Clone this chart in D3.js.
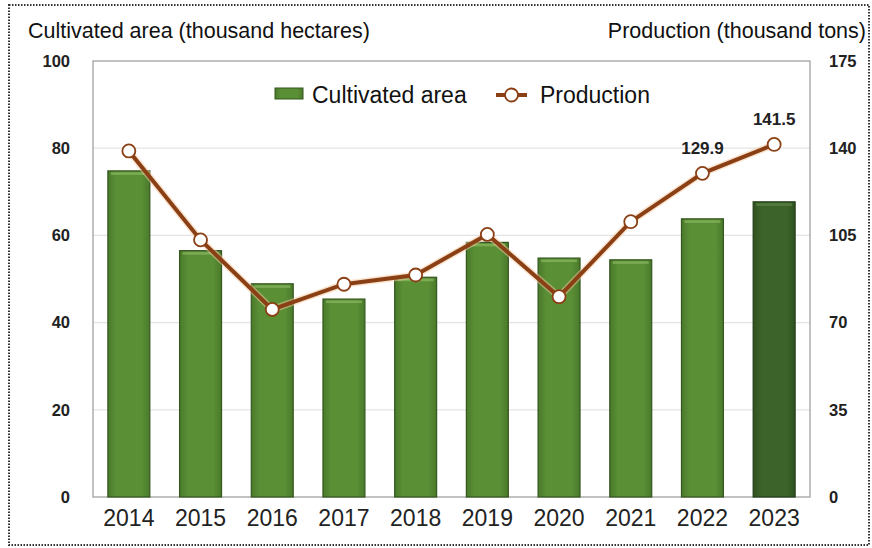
<!DOCTYPE html>
<html>
<head>
<meta charset="utf-8">
<script src="https://cdn.jsdelivr.net/npm/d3@7"></script>
<style>
  html, body { margin: 0; padding: 0; background: #fff; }
  svg { display: block; }
</style>
</head>
<body>
<div id="chart"></div>
<script>
const years = ["2014", "2015", "2016", "2017", "2018", "2019", "2020", "2021", "2022", "2023"];
const areaValues = [74.8, 56.5, 48.9, 45.4, 50.4, 58.4, 54.8, 54.4, 63.8, 67.7];
const productionValues = [138.9, 103.2, 75.3, 85.4, 89.1, 105.4, 80.4, 110.5, 129.9, 141.5];
const leftTicks = [0, 20, 40, 60, 80, 100];
const rightTicks = [0, 35, 70, 105, 140, 175];
const labelledYears = ["2022", "2023"];

const width = 872, height = 548;
const plot = { left: 93, top: 61, right: 810, bottom: 497 };
const font = "Liberation Sans, Arial, sans-serif";

const svg = d3.select("#chart").append("svg")
  .attr("width", width)
  .attr("height", height);

const defs = svg.append("defs");
const grad = defs.append("linearGradient").attr("id", "barGrad").attr("x1", 0).attr("x2", 1);
grad.append("stop").attr("offset", "0%").attr("stop-color", "#4a7a2a");
grad.append("stop").attr("offset", "20%").attr("stop-color", "#5b8f36");
grad.append("stop").attr("offset", "80%").attr("stop-color", "#5b8f36");
grad.append("stop").attr("offset", "100%").attr("stop-color", "#4a7a2a");
const grad2 = defs.append("linearGradient").attr("id", "barGradDark").attr("x1", 0).attr("x2", 1);
grad2.append("stop").attr("offset", "0%").attr("stop-color", "#2f5220");
grad2.append("stop").attr("offset", "20%").attr("stop-color", "#3c6329");
grad2.append("stop").attr("offset", "80%").attr("stop-color", "#3c6329");
grad2.append("stop").attr("offset", "100%").attr("stop-color", "#2f5220");

// dotted frame
svg.append("rect")
  .attr("x", 9).attr("y", 5)
  .attr("width", width - 12).attr("height", height - 8)
  .attr("fill", "none")
  .attr("stroke", "#333")
  .attr("stroke-width", 2)
  .attr("stroke-dasharray", "1.5,1.5");

const x = d3.scaleBand()
  .domain(years)
  .range([plot.left, plot.right])
  .paddingInner(0.415)
  .paddingOuter(0.2075);

const yLeft = d3.scaleLinear().domain([0, 100]).range([plot.bottom, plot.top]);
const yRight = d3.scaleLinear().domain([0, 175]).range([plot.bottom, plot.top]);

// grid
svg.append("g")
  .selectAll("line")
  .data(leftTicks.slice(1, -1))
  .join("line")
  .attr("x1", plot.left).attr("x2", plot.right)
  .attr("y1", d => yLeft(d)).attr("y2", d => yLeft(d))
  .attr("stroke", "#e4e4e4")
  .attr("stroke-width", 1.2);

// plot frame
svg.append("rect")
  .attr("x", plot.left).attr("y", plot.top)
  .attr("width", plot.right - plot.left).attr("height", plot.bottom - plot.top)
  .attr("fill", "none")
  .attr("stroke", "#9a9a9a")
  .attr("stroke-width", 1.2);

// bars
const bars = svg.append("g")
  .selectAll("g")
  .data(years.map((yr, i) => ({ year: yr, value: areaValues[i], last: i === years.length - 1 })))
  .join("g");

bars.append("rect")
  .attr("x", d => x(d.year))
  .attr("y", d => yLeft(d.value))
  .attr("width", x.bandwidth())
  .attr("height", d => yLeft(0) - yLeft(d.value))
  .attr("fill", d => d.last ? "url(#barGradDark)" : "url(#barGrad)")
  .attr("stroke", d => d.last ? "#233d18" : "#34561f")
  .attr("stroke-width", 1.2);

bars.append("rect")
  .attr("x", d => x(d.year) + 3)
  .attr("y", d => yLeft(d.value) + 1.5)
  .attr("width", x.bandwidth() - 6)
  .attr("height", 2.5)
  .attr("fill", d => d.last ? "#5c8145" : "#85b35c")
  .attr("opacity", 0.8);

// left axis
const leftAxis = svg.append("g")
  .attr("transform", `translate(${plot.left},0)`)
  .call(d3.axisLeft(yLeft).tickValues(leftTicks).tickSize(0).tickPadding(23));
leftAxis.select(".domain").remove();
leftAxis.selectAll("text")
  .attr("font-family", font)
  .attr("font-weight", "bold")
  .attr("font-size", 16.5)
  .attr("fill", "#222");

// right axis
const rightAxis = svg.append("g")
  .attr("transform", `translate(${plot.right},0)`)
  .call(d3.axisRight(yRight).tickValues(rightTicks).tickSize(0).tickPadding(19));
rightAxis.select(".domain").remove();
rightAxis.selectAll("text")
  .attr("font-family", font)
  .attr("font-weight", "bold")
  .attr("font-size", 16.5)
  .attr("fill", "#222");

// x axis
const xAxis = svg.append("g")
  .attr("transform", `translate(0,${plot.bottom})`)
  .call(d3.axisBottom(x).tickSize(0).tickPadding(13));
xAxis.select(".domain").remove();
xAxis.selectAll("text")
  .attr("font-family", font)
  .attr("font-size", 23)
  .attr("fill", "#222");

// production line
const lineData = years.map((yr, i) => ({ year: yr, value: productionValues[i] }));
const line = d3.line()
  .x(d => x(d.year) + x.bandwidth() / 2)
  .y(d => yRight(d.value));

svg.append("path")
  .datum(lineData)
  .attr("d", line)
  .attr("fill", "none")
  .attr("stroke", "#f3c9a0")
  .attr("stroke-width", 7)
  .attr("opacity", 0.5);

svg.append("path")
  .datum(lineData)
  .attr("d", line)
  .attr("fill", "none")
  .attr("stroke", "#8a3f14")
  .attr("stroke-width", 4);

svg.append("g")
  .selectAll("circle")
  .data(lineData)
  .join("circle")
  .attr("cx", d => x(d.year) + x.bandwidth() / 2)
  .attr("cy", d => yRight(d.value))
  .attr("r", 6.5)
  .attr("fill", "#fff")
  .attr("stroke", "#8a3f14")
  .attr("stroke-width", 1.8);

svg.append("g")
  .selectAll("text")
  .data(lineData.filter(d => labelledYears.includes(d.year)))
  .join("text")
  .attr("x", d => x(d.year) + x.bandwidth() / 2)
  .attr("y", d => yRight(d.value) - 19)
  .attr("text-anchor", "middle")
  .attr("font-family", font)
  .attr("font-weight", "bold")
  .attr("font-size", 17)
  .attr("fill", "#222")
  .text(d => d.value.toFixed(1));

// axis titles
svg.append("text")
  .attr("x", 28).attr("y", 38)
  .attr("font-family", font)
  .attr("font-size", 21.5)
  .attr("fill", "#111")
  .text("Cultivated area (thousand hectares)");

svg.append("text")
  .attr("x", 866).attr("y", 38)
  .attr("text-anchor", "end")
  .attr("font-family", font)
  .attr("font-size", 21.5)
  .attr("fill", "#111")
  .text("Production (thousand tons)");

// legend
const legend = svg.append("g")
  .attr("font-family", font)
  .attr("font-size", 23)
  .attr("fill", "#111");

legend.append("rect")
  .attr("x", 275).attr("y", 88)
  .attr("width", 28).attr("height", 11)
  .attr("fill", "url(#barGrad)")
  .attr("stroke", "#34561f")
  .attr("stroke-width", 1);
legend.append("text").attr("x", 312).attr("y", 103).text("Cultivated area");

legend.append("line")
  .attr("x1", 496).attr("x2", 527)
  .attr("y1", 95).attr("y2", 95)
  .attr("stroke", "#8a3f14")
  .attr("stroke-width", 4);
legend.append("circle")
  .attr("cx", 511.5).attr("cy", 95).attr("r", 6.5)
  .attr("fill", "#fff")
  .attr("stroke", "#8a3f14")
  .attr("stroke-width", 1.8);
legend.append("text").attr("x", 540).attr("y", 103).text("Production");
</script>
</body>
</html>
